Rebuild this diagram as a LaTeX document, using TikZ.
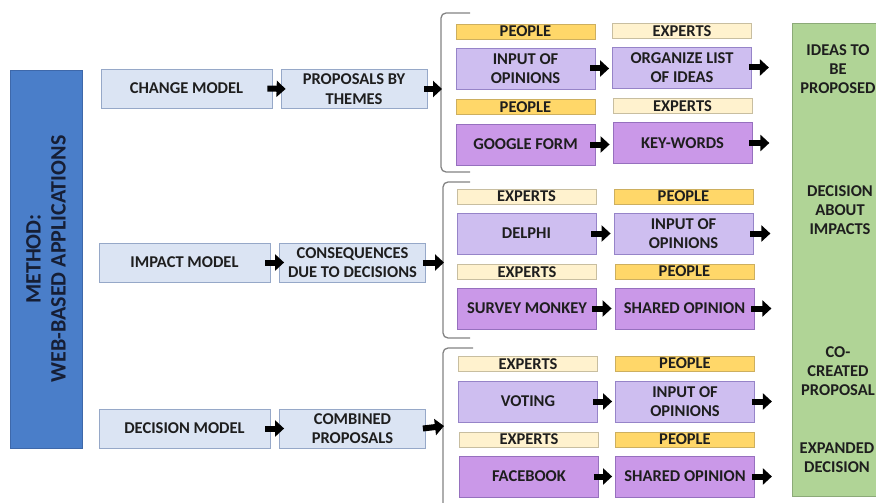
\documentclass[tikz,border=0pt]{standalone}
\usepackage{fontspec}
\setmainfont{Carlito}
\usetikzlibrary{arrows.meta}
\definecolor{barblue}{RGB}{74,126,201}
\definecolor{barline}{RGB}{62,104,170}
\definecolor{bartxt}{RGB}{22,30,52}
\definecolor{txt}{RGB}{30,30,30}
\definecolor{mfill}{RGB}{219,228,243}
\definecolor{mline}{RGB}{150,168,200}
\definecolor{lpfill}{RGB}{206,190,240}
\definecolor{lpline}{RGB}{150,132,200}
\definecolor{dpfill}{RGB}{202,152,232}
\definecolor{dpline}{RGB}{150,112,190}
\definecolor{pfill}{RGB}{255,215,105}
\definecolor{pline}{RGB}{205,175,95}
\definecolor{efill}{RGB}{255,242,206}
\definecolor{eline}{RGB}{200,190,160}
\definecolor{gfill}{RGB}{176,212,150}
\definecolor{gline}{RGB}{140,170,120}
\definecolor{brkgray}{RGB}{130,130,130}
\begin{document}
\begin{tikzpicture}[x=1pt,y=-1pt,
  base/.style={draw, line width=0.8pt, align=center, inner sep=0pt, text=txt,
    font=\bfseries\fontsize{16.5}{19.5}\selectfont},
  modelbox/.style={base, fill=mfill, draw=mline, minimum width=171pt, minimum height=39pt},
  secbox/.style={base, fill=mfill, draw=mline, minimum width=146pt, minimum height=39pt},
  ltbox/.style={base, fill=lpfill, draw=lpline, minimum width=139pt, minimum height=41pt},
  dkbox/.style={base, fill=dpfill, draw=dpline, minimum width=139pt, minimum height=41pt},
  pplbox/.style={base, fill=pfill, draw=pline, minimum width=139pt, minimum height=15pt},
  expbox/.style={base, fill=efill, draw=eline, minimum width=139pt, minimum height=15pt},
  blk/.style={line width=6pt, -{Triangle[length=9pt,width=16pt]}, black},
  brk/.style={draw=brkgray, line width=1.3pt, rounded corners=5pt},
  gtxt/.style={align=center, inner sep=0pt, text=txt,
    font=\bfseries\fontsize{16.5}{19}\selectfont}
]
\useasboundingbox (0,0) rectangle (876,503);

% left bar (rotated: width is along the bar's length)
\node[draw=barline, fill=barblue, line width=0.8pt, minimum width=378pt, minimum height=72pt,
  inner sep=0pt, text=bartxt, align=center, rotate=90,
  font=\bfseries\fontsize{22}{25}\selectfont] (bar) at (46,259) {METHOD:\\WEB-BASED APPLICATIONS};

% green column
\node[draw=gline, fill=gfill, line width=0.8pt, minimum width=110pt, minimum height=473pt, inner sep=0pt] (green) at (847,259.5) {};
\node[gtxt] (g1) at (838,69) {IDEAS TO\\BE\\PROPOSED};
\node[gtxt] (g2) at (840,210) {DECISION\\ABOUT\\IMPACTS};
\node[gtxt] (g3) at (838,371) {CO-\\CREATED\\PROPOSAL};
\node[gtxt] (g4) at (837,457.5) {EXPANDED\\DECISION};

% models
\node[modelbox] (m1) at (186.5,88.5) {CHANGE MODEL};
\node[modelbox] (m2) at (184.5,262.5) {IMPACT MODEL};
\node[modelbox] (m3) at (184.5,428.5) {DECISION MODEL};

\node[secbox] (s1) at (354,89) {PROPOSALS BY\\THEMES};
\node[secbox] (s2) at (352.5,262.5) {CONSEQUENCES\\DUE TO DECISIONS};
\node[secbox] (s3) at (352.5,428.5) {COMBINED\\PROPOSALS};

% brackets
\draw[brk] (470,13) -- (441,13) -- (441,172) -- (470,172);
\draw[brk] (470,182) -- (443,182) -- (443,338) -- (470,338);
\draw[brk] (473,348) -- (443,348) -- (443,515);
\coordinate (k1) at (442,89);
\coordinate (k2) at (444,262.5);
\coordinate (k3) at (444,426);

% column 1
\node[pplbox] (a1l) at (525.5,31.5) {PEOPLE};
\node[ltbox]  (a1)  at (525.5,68.5) {INPUT OF\\OPINIONS};
\node[pplbox] (a2l) at (525.5,107) {PEOPLE};
\node[dkbox]  (a2)  at (525.5,144.5) {GOOGLE FORM};
\node[expbox] (a3l) at (526.5,196.5) {EXPERTS};
\node[ltbox]  (a3)  at (526.5,233.5) {DELPHI};
\node[expbox] (a4l) at (527,272) {EXPERTS};
\node[dkbox]  (a4)  at (527,308.5) {SURVEY MONKEY};
\node[expbox] (a5l) at (528,364) {EXPERTS};
\node[ltbox]  (a5)  at (528,401.5) {VOTING};
\node[expbox] (a6l) at (529,439.5) {EXPERTS};
\node[dkbox]  (a6)  at (529,476.5) {FACEBOOK};

% column 2
\node[expbox] (b1l) at (682,31) {EXPERTS};
\node[ltbox]  (b1)  at (682,67.5) {ORGANIZE LIST\\OF IDEAS};
\node[expbox] (b2l) at (682.5,106) {EXPERTS};
\node[dkbox]  (b2)  at (682.5,143) {KEY-WORDS};
\node[pplbox] (b3l) at (683.5,196.5) {PEOPLE};
\node[ltbox]  (b3)  at (683.5,233.5) {INPUT OF\\OPINIONS};
\node[pplbox] (b4l) at (684.5,271.5) {PEOPLE};
\node[dkbox]  (b4)  at (684.5,308.5) {SHARED OPINION};
\node[pplbox] (b5l) at (685,363.5) {PEOPLE};
\node[ltbox]  (b5)  at (685,401.5) {INPUT OF\\OPINIONS};
\node[pplbox] (b6l) at (685,439.5) {PEOPLE};
\node[dkbox]  (b6)  at (685,476.5) {SHARED OPINION};

% free ends after column 2
\foreach \i in {1,...,6} {\coordinate (e\i) at ([xshift=17pt]b\i.east);}

% arrows
\draw[blk] ([xshift=-5pt]m1.east) -- ([xshift=5pt]s1.west);
\draw[blk] ([xshift=-5pt]m2.east) -- ([xshift=5pt]s2.west);
\draw[blk] ([xshift=-5pt]m3.east) -- ([xshift=5pt]s3.west);
\draw[blk] ([xshift=-3pt]s1.east) -- (k1);
\draw[blk] ([xshift=-3pt]s2.east) -- (k2);
\draw[blk] ([xshift=-3pt]s3.east) -- (k3);
\foreach \i in {1,...,6} {
  \draw[blk] ([xshift=-5pt]a\i.east) -- ([xshift=-3pt]b\i.west |- a\i.east);
  \draw[blk] ([xshift=-3pt]b\i.east) -- (e\i);
}
\end{tikzpicture}
\end{document}
